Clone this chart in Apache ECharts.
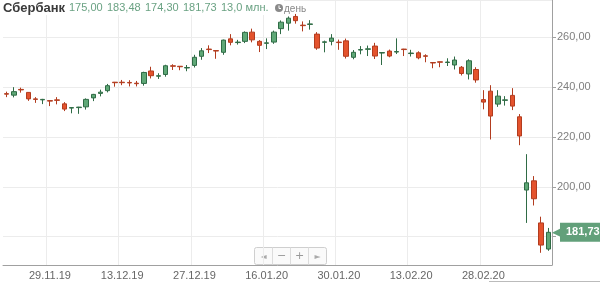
<!DOCTYPE html>
<html><head><meta charset="utf-8">
<script src="https://cdn.jsdelivr.net/npm/echarts@6/dist/echarts.min.js"></script>
<style>html,body{margin:0;padding:0;background:#fff}#c{width:600px;height:282px}</style>
</head><body><div id="c"></div>
<script>
const categories = [
 '21.11.19','22.11.19','25.11.19','26.11.19','27.11.19','28.11.19','29.11.19',
 '02.12.19','03.12.19','04.12.19','05.12.19','06.12.19','09.12.19','10.12.19','11.12.19','12.12.19','13.12.19',
 '16.12.19','17.12.19','18.12.19','19.12.19','20.12.19','23.12.19','24.12.19','25.12.19','26.12.19','27.12.19',
 '30.12.19','03.01.20','06.01.20','08.01.20','09.01.20','10.01.20','13.01.20','14.01.20','15.01.20','16.01.20',
 '17.01.20','20.01.20','21.01.20','22.01.20','23.01.20','24.01.20','27.01.20','28.01.20','29.01.20','30.01.20',
 '31.01.20','03.02.20','04.02.20','05.02.20','06.02.20','07.02.20','10.02.20','11.02.20','12.02.20','13.02.20',
 '14.02.20','17.02.20','18.02.20','19.02.20','20.02.20','21.02.20','25.02.20','26.02.20','27.02.20','28.02.20',
 '02.03.20','03.03.20','04.03.20','05.03.20','06.03.20','10.03.20','11.03.20','12.03.20','13.03.20'
];
const opens = [237.4,236.8,239.1,237.9,235.3,234.9,234.6,234.9,233.3,231.6,231.8,232.1,235.7,237.5,238.6,242.0,242.0,241.9,241.6,241.5,246.5,244.4,245.1,248.6,248.4,247.7,248.75,252.4,255.3,254.7,254.0,259.4,257.9,258.4,262.1,258.4,257.6,258.1,263.5,265.7,268.4,264.9,265.2,261.3,258.0,258.4,258.1,258.6,252.0,254.9,255.2,256.5,253.7,254.5,254.1,255.3,253.5,253.8,252.6,249.9,250.2,249.9,248.9,248.0,245.3,247.1,235.0,238.4,233.2,234.7,236.7,228.1,198.7,202.4,185.5,175.00];
const closes = [237.2,238.2,238.9,235.3,235.1,235.1,234.4,234.7,231.2,231.8,232.0,235.1,237.1,238.0,240.6,241.8,241.8,241.7,241.4,245.9,244.6,244.6,248.6,248.4,248.2,247.9,252.0,254.6,255.1,254.5,258.9,258.0,258.1,262.0,259.0,256.8,257.8,262.1,266.1,267.7,266.7,264.7,265.4,255.7,258.2,259.7,257.9,252.4,254.0,255.1,255.4,252.5,253.9,252.5,254.3,255.1,253.7,251.8,252.4,249.7,250.0,250.1,250.9,245.5,250.6,242.9,234.0,228.4,236.4,234.9,232.4,220.4,201.6,195.2,176.6,181.73];
const lows = [236.0,235.9,237.8,234.5,233.7,233.2,232.4,233.1,230.4,229.5,229.3,231.0,234.4,236.3,237.9,240.2,240.8,240.3,240.3,240.6,243.5,243.3,244.2,246.9,246.8,246.4,247.9,251.0,253.7,251.4,253.0,256.8,257.1,257.7,258.0,254.1,255.3,257.4,261.3,262.7,265.5,262.4,263.1,255.0,254.0,256.8,255.0,251.5,251.2,253.2,252.5,251.3,248.9,252.0,253.3,252.5,252.3,251.2,250.0,247.6,248.0,248.5,247.1,244.7,243.1,241.8,231.1,219.0,232.1,232.6,230.8,216.7,185.5,192.5,173.5,174.30];
const highs = [238.2,240.0,239.8,238.0,236.0,235.3,234.7,236.0,234.0,231.9,232.1,235.5,237.3,239.0,241.3,242.1,242.9,242.8,242.5,246.2,248.2,245.6,249.0,249.2,248.5,248.9,253.0,255.7,256.8,254.8,259.1,261.3,259.0,262.4,263.5,258.9,259.6,262.7,266.8,268.4,269.4,266.4,266.9,262.1,258.7,261.3,259.1,259.5,254.9,256.5,256.7,257.8,254.0,255.1,259.6,255.4,255.0,254.4,253.2,250.0,250.3,251.6,252.3,248.5,251.2,248.0,238.8,240.8,238.8,236.4,239.6,229.2,213.1,204.3,188.0,183.48];
const xTickLabels = ['29.11.19','13.12.19','27.12.19','16.01.20','30.01.20','13.02.20','28.02.20'];
const yTickLabels = [200,220,240,260];
const lastClose = 181.73;
const headerTitle = 'Сбербанк';
const headerValues = ['175,00','183,48','174,30','181,73','13,0 млн.'];
const headerPeriod = 'день';

const candleData = categories.map((_, i) => [opens[i], closes[i], lows[i], highs[i]]);
const showTick = (idx) => xTickLabels.indexOf(categories[idx]) >= 0;
const fmt = v => v.toFixed(2).replace('.', ',');
const FONT = '"Liberation Sans", Arial, sans-serif';
const TAG = '#62a07a';

// header text layout (UI text, not data marks)
const headerX = [69, 107, 145, 183, 221];
const headerTexts = headerValues.map((t, i) => ({
  type: 'text', x: headerX[i], y: 8, z: 100,
  style: {text: t, fill: '#6aa283', fontSize: 11, fontFamily: FONT, verticalAlign: 'middle'}
}));

const chart = echarts.init(document.getElementById('c'), null, {renderer: 'canvas'});
chart.setOption({
  animation: false,
  backgroundColor: '#fff',
  grid: {left: 3, right: 48, top: 0, bottom: 17},
  xAxis: {
    type: 'category',
    data: categories,
    boundaryGap: true,
    axisLine: {lineStyle: {color: '#a0a0a0'}},
    axisTick: {show: false},
    axisLabel: {interval: (idx) => showTick(idx), color: '#666', fontSize: 11, fontFamily: FONT, margin: 5},
    splitLine: {show: true, interval: (idx) => showTick(idx), lineStyle: {color: '#ececec'}}
  },
  yAxis: {
    type: 'value',
    position: 'right',
    min: 168.6, max: 275.0,
    splitNumber: 5,
    scale: true,
    axisLine: {show: true, lineStyle: {color: '#a0a0a0'}},
    axisTick: {show: true, length: 4, lineStyle: {color: '#a0a0a0'}},
    axisLabel: {
      color: '#808080', fontSize: 11, fontFamily: FONT, margin: 5,
      showMinLabel: false, showMaxLabel: false,
      formatter: v => yTickLabels.indexOf(Math.round(v)) >= 0 && Math.abs(v - Math.round(v)) < 1e-6 ? fmt(v) : ''
    },
    splitLine: {show: true, lineStyle: {color: '#ececec'}}
  },
  series: [{
    type: 'candlestick',
    data: candleData,
    barWidth: 5,
    clip: false,
    itemStyle: {
      color: '#5fa877', color0: '#e4532d',
      borderColor: '#2f6b45', borderColor0: '#b23c1f', borderWidth: 1
    },
    markLine: {
      silent: true,
      symbol: ['none', 'none'],
      lineStyle: {width: 1, color: 'rgba(0,0,0,0)', opacity: 1, type: 'solid'},
      label: {
        show: true, position: 'end', distance: 0, opacity: 1,
        formatter: () => '{a|◀}{b|' + fmt(lastClose) + '}',
        rich: {
          a: {color: TAG, fontSize: 13, fontFamily: 'DejaVu Sans', padding: [0, -2, 0, 0], lineHeight: 19},
          b: {backgroundColor: TAG, color: '#fff', fontSize: 11, fontWeight: 'bold', fontFamily: FONT,
               padding: [4, 7, 4, 6], lineHeight: 11}
        }
      },
      emphasis: {disabled: true},
      data: [{yAxis: lastClose}]
    }
  }],
  graphic: [
    {type: 'rect', left: 0, top: 0, shape: {width: 284, height: 15}, style: {fill: '#fff'}, z: 90},
    {type: 'text', x: 3, y: 8, z: 100, style: {text: headerTitle, fill: '#3a3a3a', fontSize: 13, fontWeight: 'bold', fontFamily: FONT, verticalAlign: 'middle'}},
    ...headerTexts,
    {type: 'circle', x: 279, y: 8, z: 100, shape: {r: 4}, style: {fill: '#8a8a8a'}},
    {type: 'polyline', z: 101, shape: {points: [[279, 5.5], [279, 8.5], [281, 8.5]]}, style: {stroke: '#fff', lineWidth: 1, fill: null}},
    {type: 'text', x: 284, y: 9.5, z: 100, style: {text: headerPeriod, fill: '#888', fontSize: 10, fontFamily: FONT, verticalAlign: 'middle'}},
    {type: 'group', left: 254, top: 245, children: [
      {type: 'rect', shape: {x: 0, y: 0, width: 72, height: 17, r: 2}, style: {fill: '#fafafa', stroke: '#cfcfcf'}},
      {type: 'line', shape: {x1: 18, y1: 0, x2: 18, y2: 17}, style: {stroke: '#dcdcdc'}},
      {type: 'line', shape: {x1: 36, y1: 0, x2: 36, y2: 17}, style: {stroke: '#dcdcdc'}},
      {type: 'line', shape: {x1: 54, y1: 0, x2: 54, y2: 17}, style: {stroke: '#dcdcdc'}},
      {type: 'text', x: 9, y: 9, style: {text: '◄', fill: '#aaa', fontSize: 8, align: 'center', verticalAlign: 'middle', fontFamily: 'DejaVu Sans'}},
      {type: 'text', x: 27, y: 9, style: {text: '−', fill: '#999', fontSize: 11, align: 'center', verticalAlign: 'middle', fontFamily: 'DejaVu Sans'}},
      {type: 'text', x: 45, y: 9, style: {text: '+', fill: '#999', fontSize: 11, align: 'center', verticalAlign: 'middle', fontFamily: 'DejaVu Sans'}},
      {type: 'text', x: 63, y: 9, style: {text: '►', fill: '#aaa', fontSize: 8, align: 'center', verticalAlign: 'middle', fontFamily: 'DejaVu Sans'}}
    ]},
    {type: 'line', shape: {x1: 489, y1: 281.5, x2: 600, y2: 281.5}, style: {stroke: '#bbb'}}
  ]
});
</script></body></html>
